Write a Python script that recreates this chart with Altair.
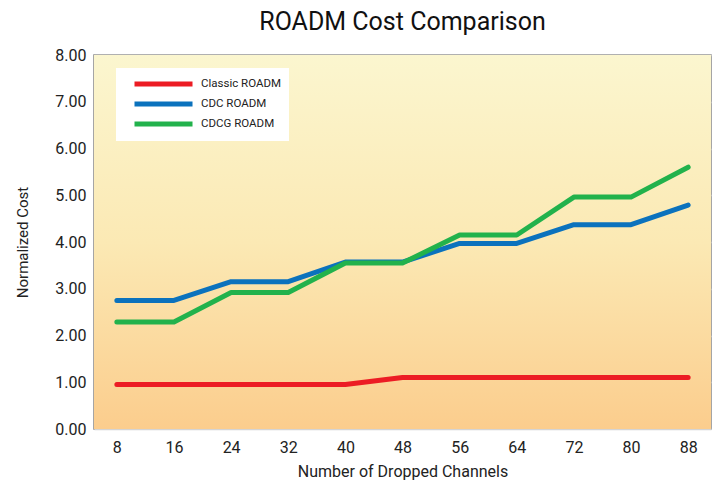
import altair as alt
import pandas as pd

channels = [8, 16, 24, 32, 40, 48, 56, 64, 72, 80, 88]
classic = [0.95, 0.95, 0.95, 0.95, 0.95, 1.10, 1.10, 1.10, 1.10, 1.10, 1.10]
cdc = [2.75, 2.75, 3.15, 3.15, 3.57, 3.57, 3.97, 3.97, 4.37, 4.37, 4.79]
cdcg = [2.29, 2.29, 2.92, 2.92, 3.55, 3.55, 4.15, 4.15, 4.96, 4.96, 5.60]
series_names = ["Classic ROADM", "CDC ROADM", "CDCG ROADM"]
series_colors = ["#ec1c24", "#0b72bd", "#22b24c"]

rows = []
for name, vals in zip(series_names, [classic, cdc, cdcg]):
    for c, v in zip(channels, vals):
        rows.append({"ch": c, "cost": v, "series": name})
df = pd.DataFrame(rows)

W, H = 617, 374
FONT = "Roboto"

bg = alt.Chart(pd.DataFrame({"a": [0]})).mark_rect(
    color=alt.LinearGradient(
        gradient="linear", x1=0, y1=0, x2=0, y2=1,
        stops=[alt.GradientStop(color="#fbf6cf", offset=0),
               alt.GradientStop(color="#fbe9b4", offset=0.5),
               alt.GradientStop(color="#fbcd8d", offset=1)]
    )
).encode(x=alt.value(0), x2=alt.value(W), y=alt.value(0), y2=alt.value(H))

lines = alt.Chart(df).mark_line(strokeWidth=5, strokeCap="round", strokeJoin="round").encode(
    x=alt.X("ch:O", sort=channels, scale=alt.Scale(type="point", padding=0.4),
            axis=alt.Axis(title="Number of Dropped Channels", labelAngle=0, ticks=False,
                          domain=False, labelFontSize=16, titleFontSize=16, labelPadding=10,
                          titlePadding=8, labelColor="#222", titleColor="#222",
                          titleFontWeight="normal")),
    y=alt.Y("cost:Q", scale=alt.Scale(domain=[0, 8]),
            axis=alt.Axis(title="Normalized Cost", format=".2f", values=[0,1,2,3,4,5,6,7,8],
                          ticks=False, domain=False, gridColor="#d4d4d4", gridWidth=1.5,
                          labelFontSize=16, titleFontSize=15, labelPadding=8, titlePadding=24,
                          labelColor="#222", titleColor="#222", titleFontWeight="normal")),
    color=alt.Color("series:N", sort=series_names,
                    scale=alt.Scale(domain=series_names, range=series_colors),
                    legend=alt.Legend(title=None, orient="none", legendX=22, legendY=13,
                                      symbolType="M0.385,0H9.31", symbolStrokeWidth=5, symbolSize=169,
                                      fillColor="white", padding=7, labelFontSize=11.5,
                                      labelColor="#222", rowPadding=0, labelOffset=60)),
    order=alt.Order("series:N"),
)

chart = alt.layer(bg, lines).properties(
    width=W, height=H,
    title=alt.TitleParams("ROADM Cost Comparison", fontSize=25, fontWeight="normal",
                          color="#111", anchor="middle", offset=12),
    padding={"left": 7, "top": 2, "right": 2, "bottom": 2},
).configure(font=FONT).configure_view(stroke="#888", strokeWidth=1.5)

chart.save("out.html", embed_options={"renderer": "svg", "actions": False})
